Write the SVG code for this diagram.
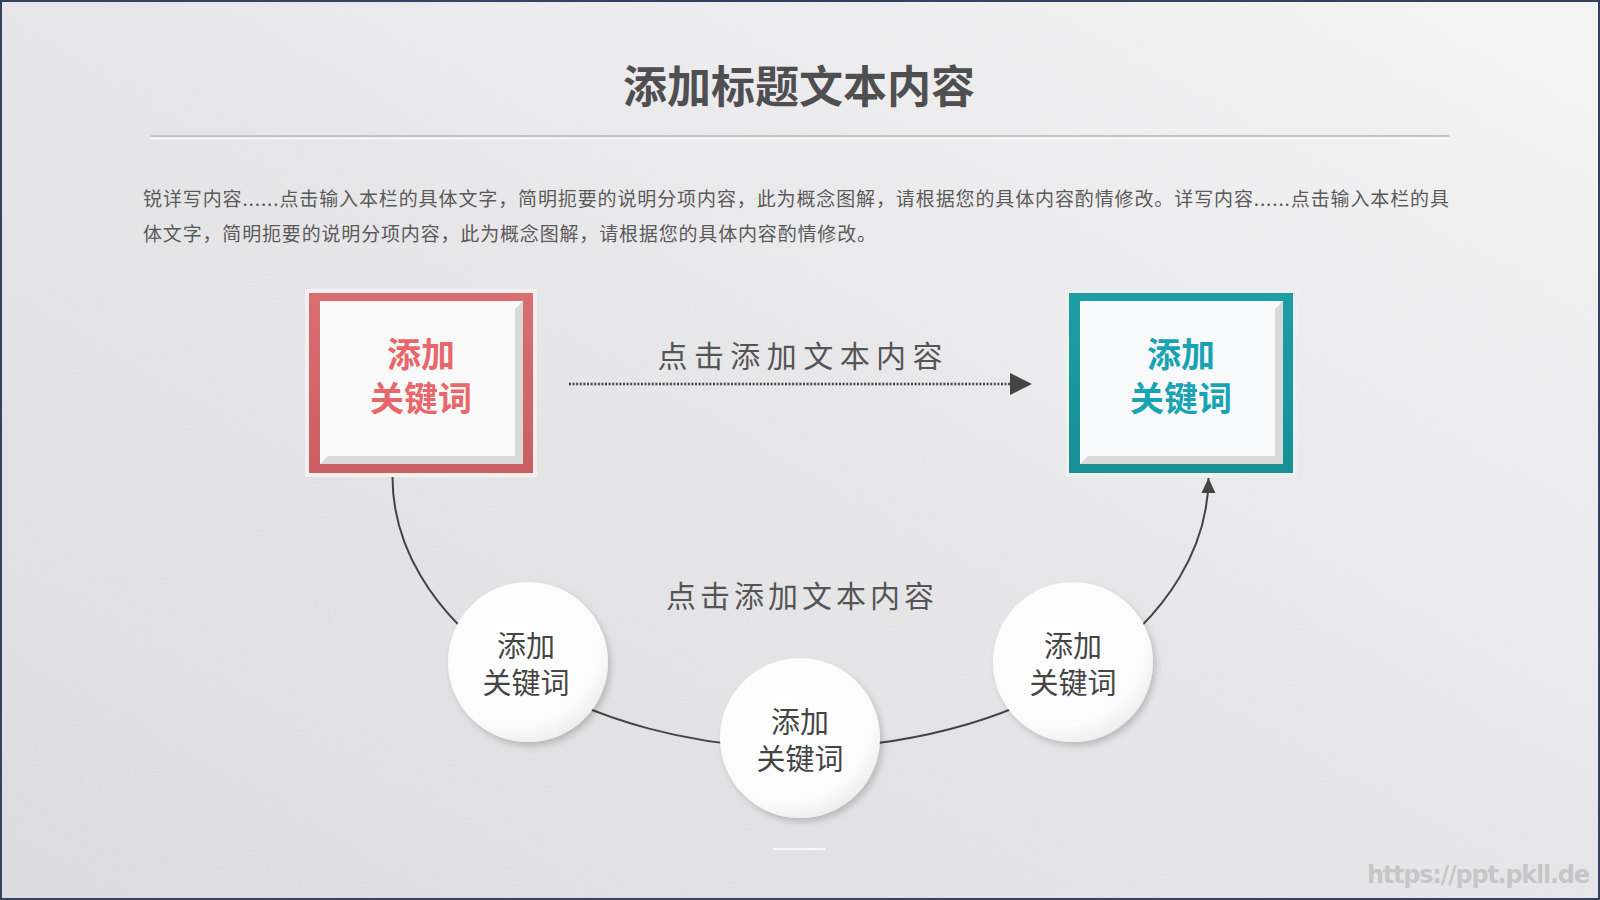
<svg xmlns="http://www.w3.org/2000/svg" width="1600" height="900" viewBox="0 0 1600 900">
<defs>
<style>
.cjk{font-family:"Noto Sans CJK SC","Noto Sans",sans-serif}
.para{font-size:19px;fill:#5a5a5a}
.lbl{font-size:30px;fill:#555;text-anchor:middle}
.ctext{font-size:29px;fill:#454545;text-anchor:middle}
.btext{font-size:34px;font-weight:bold;text-anchor:middle}
.conn{fill:none;stroke:#444;stroke-width:2}
</style>
<linearGradient id="bg" x1="0" y1="1" x2="1" y2="0">
<stop offset="0" stop-color="#d9d9db"/>
<stop offset="0.5" stop-color="#e4e4e6"/>
<stop offset="1" stop-color="#f3f3f4"/>
</linearGradient>
<filter id="noise" x="0" y="0" width="100%" height="100%">
<feTurbulence type="fractalNoise" baseFrequency="0.9" numOctaves="2" seed="3" result="n"/>
<feColorMatrix in="n" type="matrix" values="0 0 0 0 1  0 0 0 0 1  0 0 0 0 1  0 0 0 0.18 0"/>
</filter>
<radialGradient id="cfill" cx="0.4" cy="0.35" r="0.7">
<stop offset="0" stop-color="#ffffff"/>
<stop offset="0.8" stop-color="#fbfbfb"/>
<stop offset="1" stop-color="#ececec"/>
</radialGradient>
<filter id="shadow" x="-30%" y="-30%" width="160%" height="160%">
<feDropShadow dx="3" dy="4" stdDeviation="3" flood-color="#000" flood-opacity="0.18"/>
</filter>
<linearGradient id="redf" x1="0" y1="0" x2="0" y2="1">
<stop offset="0" stop-color="#d96f71"/>
<stop offset="1" stop-color="#c95f63"/>
</linearGradient>
<linearGradient id="tealf" x1="0" y1="0" x2="0" y2="1">
<stop offset="0" stop-color="#1c9ea5"/>
<stop offset="1" stop-color="#178f97"/>
</linearGradient>
<marker id="arr" markerWidth="16" markerHeight="16" refX="15" refY="7" orient="auto" markerUnits="userSpaceOnUse">
<path d="M0,0 L15,7 L0,14 Z" fill="#444"/>
</marker>
</defs>

<!-- background -->
<rect x="0" y="0" width="1600" height="900" fill="url(#bg)"/>
<rect x="0" y="0" width="1600" height="900" filter="url(#noise)"/>
<rect x="1" y="1" width="1598" height="898" fill="none" stroke="#35415f" stroke-width="2"/>

<!-- title -->
<text class="cjk" x="799" y="103" font-size="44" font-weight="bold" fill="#4f4f51" text-anchor="middle">添加标题文本内容</text>
<line x1="151" y1="136" x2="1449" y2="136" stroke="#c4c4c4" stroke-width="2"/>
<line x1="151" y1="138.5" x2="1449" y2="138.5" stroke="#fbfbfb" stroke-width="1.5"/>

<!-- paragraph -->
<text class="cjk para" x="143" y="206" textLength="1306">锐详写内容......点击输入本栏的具体文字，简明扼要的说明分项内容，此为概念图解，请根据您的具体内容酌情修改。详写内容......点击输入本栏的具</text>
<text class="cjk para" x="143" y="241" textLength="733">体文字，简明扼要的说明分项内容，此为概念图解，请根据您的具体内容酌情修改。</text>

<!-- connectors -->
<g id="connectors">
<line x1="569" y1="384" x2="1011" y2="384" stroke="#444" stroke-width="2.6" stroke-dasharray="2 1.6"/>
<path d="M1010,373 L1032,384 L1010,395 Z" fill="#444"/>
<path class="conn" d="M392.5,476 A408,271 0 0 0 1208.5,478" marker-end="url(#arr)"/>
</g>

<!-- labels -->
<text class="cjk lbl" x="800" y="367" textLength="285">点击添加文本内容</text>
<text class="cjk lbl" x="800" y="607" textLength="268">点击添加文本内容</text>

<!-- left box -->
<g id="box-left">
<rect x="305" y="289" width="232" height="188" fill="#f3f0ef"/>
<rect x="309" y="293" width="224" height="180" fill="url(#redf)"/>
<rect x="320" y="301" width="203" height="163" fill="#d9d9d7"/>
<polygon points="320,301 523,301 515,309 515,456 328,456 320,464" fill="#f9f9f9"/>
<text class="cjk btext" fill="#e8676b"><tspan x="421" y="367">添加</tspan><tspan x="421" y="411">关键词</tspan></text>
</g>

<!-- right box -->
<g id="box-right">
<rect x="1065" y="289" width="232" height="188" fill="#eef0f0"/>
<rect x="1069" y="293" width="224" height="180" fill="url(#tealf)"/>
<rect x="1080" y="301" width="203" height="163" fill="#d9d9d9"/>
<polygon points="1080,301 1283,301 1275,309 1275,456 1088,456 1080,464" fill="#f8f9fa"/>
<text class="cjk btext" fill="#1aa3b3"><tspan x="1181" y="367">添加</tspan><tspan x="1181" y="411">关键词</tspan></text>
</g>

<!-- circles -->
<g id="circle-1">
<circle cx="528" cy="662" r="80" fill="url(#cfill)" filter="url(#shadow)"/>
<text class="cjk ctext"><tspan x="526" y="657">添加</tspan><tspan x="526" y="694">关键词</tspan></text>
</g>
<g id="circle-2">
<circle cx="800" cy="738" r="80" fill="url(#cfill)" filter="url(#shadow)"/>
<text class="cjk ctext"><tspan x="800" y="733">添加</tspan><tspan x="800" y="770">关键词</tspan></text>
</g>
<g id="circle-3">
<circle cx="1073" cy="662" r="80" fill="url(#cfill)" filter="url(#shadow)"/>
<text class="cjk ctext"><tspan x="1073" y="657">添加</tspan><tspan x="1073" y="694">关键词</tspan></text>
</g>

<!-- bottom small line -->
<line x1="773" y1="849" x2="825" y2="849" stroke="#fafafa" stroke-width="2"/>

<!-- watermark -->
<text x="1367" y="883" font-family="DejaVu Sans, sans-serif" font-size="24" font-weight="bold" fill="#c6c6c8" textLength="223">https://ppt.pkll.de</text>
</svg>
